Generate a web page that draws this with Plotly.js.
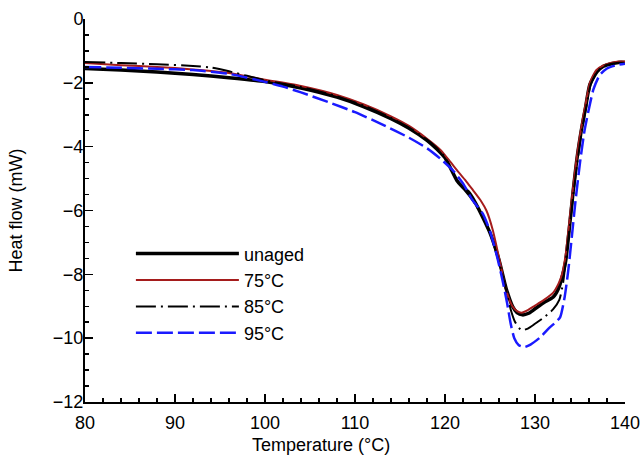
<!DOCTYPE html>
<html>
<head>
<meta charset="utf-8">
<script src="https://cdn.plot.ly/plotly-3.0.1.min.js"></script>
<style>html,body{margin:0;padding:0;background:#fff;}#chart{width:641px;height:461px;}</style>
</head>
<body>
<div id="chart"></div>
<script>
// Unaged
const tUnaged = [80,84,88,92,96,100,104,108,111,114,116,118,119,120,120.7,121.3,121.9,122.6,123.3,124,125,126,126.8,127.5,128,128.6,129.3,130,131,132,132.6,133,133.4,133.8,134.2,134.7,135.2,135.6,136.1,136.9,137.6,138.5,139.3,140];
const hUnaged = [-1.55,-1.6,-1.66,-1.74,-1.84,-1.96,-2.16,-2.45,-2.75,-3.12,-3.42,-3.8,-4.05,-4.35,-4.72,-5.05,-5.25,-5.42,-5.72,-6.1,-6.7,-7.55,-8.45,-9.0,-9.2,-9.27,-9.22,-9.08,-8.88,-8.72,-8.45,-8.1,-7.6,-6.6,-5.5,-4.3,-3.4,-2.8,-2.05,-1.65,-1.48,-1.4,-1.36,-1.36];
// 75 °C
const t75 = [80,84,88,92,96,100,104,108,111,114,116,118,119.5,120.6,121.5,122.4,123.1,124,124.6,125.3,126.1,126.8,127.5,128,128.5,129.2,130,131,132,132.6,133,133.4,133.8,134.2,134.7,135.2,135.6,136.1,136.8,137.6,138.5,139.3,140];
const h75 = [-1.38,-1.45,-1.5,-1.58,-1.69,-1.9,-2.1,-2.38,-2.68,-3.05,-3.35,-3.75,-4.1,-4.48,-4.8,-5.1,-5.36,-5.7,-6.0,-6.6,-7.6,-8.5,-9.0,-9.15,-9.2,-9.12,-8.98,-8.8,-8.58,-8.3,-8.0,-7.4,-6.4,-5.35,-4.2,-3.3,-2.7,-2.0,-1.6,-1.45,-1.37,-1.33,-1.33];
// 85 °C
const t85 = [80,84,88,92,94,96,98,100,104,108,111,114,116,118,119,120,120.7,121.3,122,123,124,125,126,126.8,127.3,127.8,128.5,129.2,130,131,132,132.7,133.1,133.5,133.9,134.3,134.8,135.3,135.7,136.2,136.9,137.6,138.5,139.3,140];
const h85 = [-1.35,-1.38,-1.42,-1.47,-1.52,-1.64,-1.78,-1.92,-2.13,-2.42,-2.72,-3.1,-3.4,-3.78,-4.02,-4.33,-4.72,-5.05,-5.3,-5.65,-6.1,-6.72,-7.6,-8.5,-9.1,-9.5,-9.75,-9.7,-9.55,-9.35,-9.1,-8.8,-8.3,-7.4,-6.4,-5.4,-4.3,-3.35,-2.75,-2.05,-1.65,-1.48,-1.4,-1.37,-1.37];
// 95 °C
const t95 = [80,84,88,92,96,100,102,104,107,110,113,116,118,119.5,120.9,122,123,124.2,125,125.8,126.4,126.9,127.3,127.7,128.2,128.8,129.5,130.6,131.5,132.3,132.8,133.3,133.7,134.1,134.5,135,135.5,136,136.5,137.2,138,139,140];
const h95 = [-1.5,-1.53,-1.56,-1.6,-1.72,-1.97,-2.12,-2.3,-2.6,-2.92,-3.3,-3.72,-4.05,-4.38,-4.75,-5.15,-5.65,-6.1,-6.65,-7.46,-8.2,-8.9,-9.55,-10.0,-10.22,-10.28,-10.2,-9.97,-9.7,-9.5,-9.34,-8.7,-7.87,-6.8,-5.7,-4.5,-3.5,-2.8,-2.2,-1.75,-1.55,-1.45,-1.4];

const seriesNames = ['unaged','75\u00B0C','85\u00B0C','95\u00B0C'];
const xTitle = 'Temperature (\u00B0C)';
const yTitle = 'Heat flow (mW)';

const font = {family: 'Liberation Sans, Arial, sans-serif', size: 18, color: '#000'};

const traces = [
  {x: tUnaged, y: hUnaged, name: seriesNames[0], mode: 'lines', line: {color: '#000', width: 3.5, shape: 'spline', smoothing: 0.6}},
  {x: t75, y: h75, name: seriesNames[1], mode: 'lines', line: {color: '#a51c1c', width: 2, shape: 'spline', smoothing: 0.6}},
  {x: t85, y: h85, name: seriesNames[2], mode: 'lines', line: {color: '#000', width: 2, dash: '20px,5px,2px,5px', shape: 'spline', smoothing: 0.6}},
  {x: t95, y: h95, name: seriesNames[3], mode: 'lines', line: {color: '#1a1aff', width: 2.5, dash: '16px,5px', shape: 'spline', smoothing: 0.6}}
];

const layout = {
  width: 641, height: 461,
  margin: {l: 85, r: 16, t: 19, b: 59},
  paper_bgcolor: '#fff', plot_bgcolor: '#fff',
  font: font,
  showlegend: true,
  legend: {x: 0.085, y: 0.435, xanchor: 'left', yanchor: 'top', bgcolor: 'rgba(0,0,0,0)', itemwidth: 103, font: font, tracegroupgap: 0},
  xaxis: {
    range: [80, 140], tick0: 80, dtick: 10, ticks: 'inside', ticklen: 8, tickwidth: 1.5, tickcolor: '#000',
    minor: {dtick: 2, ticks: 'inside', ticklen: 4, tickwidth: 1.5, tickcolor: '#000'},
    showline: true, linecolor: '#000', linewidth: 2, showgrid: false, zeroline: false,
    ticklabelstandoff: 3,
    tickfont: font
  },
  yaxis: {
    range: [-12, 0], tick0: 0, dtick: 2, ticks: 'inside', ticklen: 8, tickwidth: 1.5, tickcolor: '#000',
    minor: {dtick: 0.5, ticks: 'inside', ticklen: 4, tickwidth: 1.5, tickcolor: '#000'},
    showline: true, linecolor: '#000', linewidth: 2, showgrid: false, zeroline: false,
    ticklabelstandoff: -4,
    tickfont: font, title: {text: yTitle, font: font, standoff: 26}
  },
  annotations: [
    {text: xTitle, xref: 'paper', yref: 'paper', x: 0.437, y: -0.112, xanchor: 'center', yanchor: 'middle', showarrow: false, font: font}
  ]
};

Plotly.newPlot('chart', traces, layout, {displayModeBar: false, staticPlot: true});
</script>
</body>
</html>
